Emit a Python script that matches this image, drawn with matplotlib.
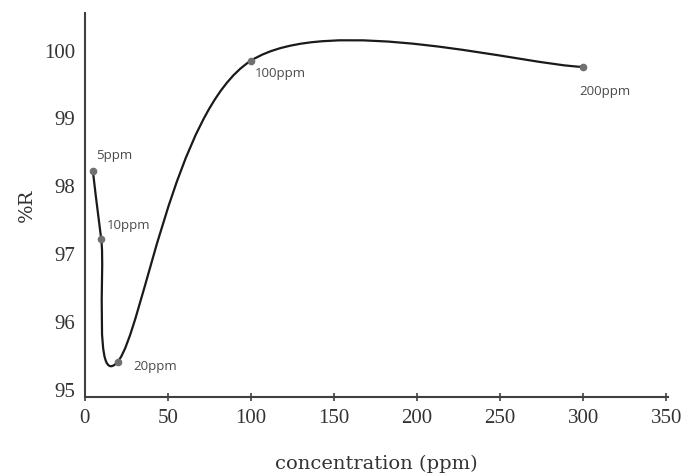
import numpy as np
import matplotlib
matplotlib.use('Agg')
import matplotlib.pyplot as plt
from matplotlib.path import Path
from matplotlib.patches import PathPatch

# Data
conc = [5, 10, 20, 100, 300]
pct_r = [98.22, 97.22, 95.42, 99.85, 99.76]
point_labels = ['5ppm', '10ppm', '20ppm', '100ppm', '200ppm']
label_offsets = [(3, 16), (6, 14), (15, -5), (4, -13), (-4, -25)]  # pixels

x_ticks = [0, 50, 100, 150, 200, 250, 300, 350]
y_ticks = [95, 96, 97, 98, 99, 100]

fig = plt.figure(figsize=(6.88, 4.73), dpi=100)
ax = fig.add_axes([0.123, 0.161, 0.848, 0.811])

# Excel-style smoothed line: cubic Bezier through the points (affine invariant)
pts = np.column_stack([conc, pct_r])
n = len(pts)
verts = [pts[0]]
codes = [Path.MOVETO]
for i in range(n - 1):
    p_prev = pts[max(i - 1, 0)]
    p_next2 = pts[min(i + 2, n - 1)]
    c1 = pts[i] + (pts[i + 1] - p_prev) / 6
    c2 = pts[i + 1] - (p_next2 - pts[i]) / 6
    verts += [c1, c2, pts[i + 1]]
    codes += [Path.CURVE4] * 3
ax.add_patch(PathPatch(Path(verts, codes), facecolor='none',
                       edgecolor='#1a1a1a', linewidth=1.6, zorder=2))

ax.plot(conc, pct_r, 'o', color='#707070', markersize=4.5, zorder=3)

for x, y, lab, off in zip(conc, pct_r, point_labels, label_offsets):
    ax.annotate(lab, (x, y), xytext=off, textcoords='offset pixels',
                fontsize=9.5, family='Open Sans', color='#4a4a4a',
                ha='left', va='center')

ax.set_xlim(0, 351)
ax.set_ylim(94.9, 100.55)
ax.set_xticks(x_ticks)
ax.set_yticks(y_ticks)
for lab in ax.get_xticklabels() + ax.get_yticklabels():
    lab.set_family('Liberation Serif')
    lab.set_fontsize(15)
    lab.set_color('#333333')
ax.tick_params(axis='x', direction='inout', length=6, width=1.2,
               color='#404040', pad=6)
ax.tick_params(axis='y', length=0, pad=7)

ax.spines['top'].set_visible(False)
ax.spines['right'].set_visible(False)
for s in ['left', 'bottom']:
    ax.spines[s].set_color('#404040')
    ax.spines[s].set_linewidth(1.5)

ax.set_xlabel('concentration (ppm)', family='DejaVu Serif', fontsize=14,
              color='#333333', labelpad=19)
ax.set_ylabel('%R', family='DejaVu Serif', fontsize=14,
              color='#333333', labelpad=6)

fig.savefig('out.png', dpi=100)
